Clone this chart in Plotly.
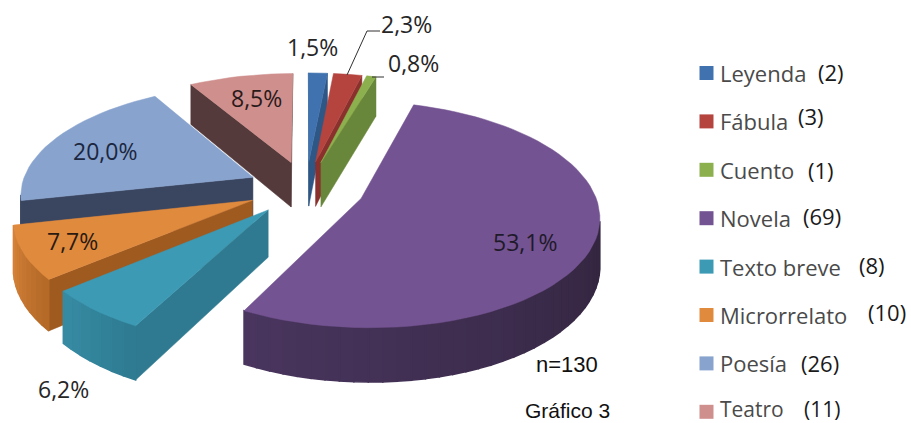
import numpy as np
import plotly.graph_objects as go

# --- DATA ---
genres = ["Leyenda", "Fábula", "Cuento", "Novela", "Texto breve", "Microrrelato", "Poesía", "Teatro"]
counts = [2, 3, 1, 69, 8, 10, 26, 11]
pct_labels = ["1,5%", "2,3%", "0,8%", "53,1%", "6,2%", "7,7%", "20,0%", "8,5%"]

# --- STYLE ---
top_colors = ["#3f72ae", "#b5443f", "#8cb04e", "#735391", "#3c9ab5", "#e08a3e", "#87a3ce", "#cf8f8d"]
cut_colors = ["#2f5785", "#8a312e", "#68873a", "#45335a", "#2f7a90", "#9f5a20", "#3a4560", "#553a3b"]
arc_left = ["#2f5785", "#8a312e", "#68873a", "#49355e", "#368ba3", "#d58238", "#3a4560", "#553a3b"]
arc_right = ["#2f5785", "#8a312e", "#68873a", "#33253f", "#2f7c92", "#b56a28", "#3a4560", "#553a3b"]
draw_order = [7, 0, 1, 2, 6, 5, 4, 3]

# label placement, page pixels
pct_x = [312, 406, 413, 525, 63, 72, 105, 256]
pct_y = [47, 24, 63, 242, 389, 241, 151, 98]
pct_colors = ["#262626", "#262626", "#262626", "#1f1a2a", "#262626", "#2a1a10", "#1c2740", "#2a1a1a"]
count_x = [816, 796, 806, 801, 857, 866, 799, 802]
count_dy = [-1, -5, 0, -2, -2, -3, 0, -3]

# --- PROJECTION OF THE TILTED PIE ---
CX, CY = 306, 188
RX, RY = 232, 108
PERSP = 0.14
PULL = 0.253
DEPTH = 46


def project(u, v, z=0.0):
    w = 1 + PERSP * v
    return CX + RX * u / w, CY - RY * v / w + z * DEPTH / w


def poly(fig, xs, ys, color, width=0.5):
    fig.add_trace(go.Scatter(
        x=xs, y=ys, mode="lines", fill="toself", fillcolor=color,
        line=dict(color=color, width=width), hoverinfo="skip", showlegend=False,
    ))


def mix(c1, c2, t):
    a = [int(c1[i:i + 2], 16) for i in (1, 3, 5)]
    b = [int(c2[i:i + 2], 16) for i in (1, 3, 5)]
    return "rgb({},{},{})".format(*[round(p + (q - p) * t) for p, q in zip(a, b)])


def add_slice(fig, i, start, end):
    mid = (start + end) / 2
    ou, ov = PULL * np.sin(mid), PULL * np.cos(mid)
    thetas = np.linspace(start, end, max(2, int(np.degrees(end - start) / 3) + 1))
    us = ou + np.sin(thetas)
    vs = ov + np.cos(thetas)

    def wall(p1, p2, color, width=0.5):
        x1, y1 = project(*p1)
        x2, y2 = project(*p2)
        x3, y3 = project(*p2, 1)
        x4, y4 = project(*p1, 1)
        poly(fig, [x1, x2, x3, x4, x1], [y1, y2, y3, y4, y1], color, width)

    apex = (ou, ov)
    rim = list(zip(us, vs))
    # only walls whose top edge runs leftwards on screen face the viewer
    if project(*rim[0])[0] < project(*apex)[0]:
        wall(apex, rim[0], cut_colors[i])
    visible = [k for k in range(len(rim) - 1) if project(*rim[k + 1])[0] < project(*rim[k])[0]]
    for n, k in enumerate(visible):
        # the rim runs clockwise, so the first visible part is the right one
        t = n / max(1, len(visible) - 1)
        wall(rim[k], rim[k + 1], mix(arc_right[i], arc_left[i], t), 1.5)
    if project(*apex)[0] < project(*rim[-1])[0]:
        wall(rim[-1], apex, cut_colors[i])

    tx, ty = project(np.r_[ou, us, ou], np.r_[ov, vs, ov])
    poly(fig, tx, ty, top_colors[i])


fig = go.Figure()

edges = 2 * np.pi * np.r_[0, np.cumsum(counts)] / sum(counts)
for i in draw_order:
    add_slice(fig, i, edges[i], edges[i + 1])

# leader lines of the two small labels
for lx, ly in [([347, 367, 380], [75, 31, 31]), ([372, 384], [77, 77])]:
    fig.add_trace(go.Scatter(x=lx, y=ly, mode="lines", line=dict(color="#303030", width=1),
                             hoverinfo="skip", showlegend=False))

# legend swatches
legend_y = [73 + 48.4 * i for i in range(len(genres))]
fig.add_trace(go.Scatter(
    x=[706.5] * len(genres), y=legend_y, mode="markers",
    marker=dict(symbol="square", size=14, color=top_colors, line=dict(width=0)),
    hoverinfo="skip", showlegend=False,
))

for i, label in enumerate(pct_labels):
    fig.add_annotation(x=pct_x[i], y=pct_y[i], text=label, showarrow=False,
                       font=dict(family="Open Sans", size=23, color=pct_colors[i]))

for i, name in enumerate(genres):
    # last row sits against the page bottom, so it is set a little higher and smaller
    last = i == len(genres) - 1
    size = 21 if last else 22
    fig.add_annotation(x=718, y=legend_y[i] - (3 if last else 0), text=name, showarrow=False, xanchor="left",
                       font=dict(family="Open Sans", size=size, color="#4a4a4a"))
    fig.add_annotation(x=count_x[i], y=legend_y[i] + count_dy[i], text=f"({counts[i]})", showarrow=False,
                       xanchor="left", font=dict(family="Open Sans", size=size, color="#1a1a1a"))

fig.add_annotation(x=567, y=364, text="n=130", showarrow=False,
                   font=dict(family="Liberation Sans", size=22, color="#111111"))
fig.add_annotation(x=567, y=410, text="Gráfico 3", showarrow=False,
                   font=dict(family="Liberation Sans", size=21, color="#111111"))

fig.update_layout(
    width=911, height=423,
    margin=dict(l=0, r=0, t=0, b=0),
    paper_bgcolor="white", plot_bgcolor="white",
    showlegend=False,
    xaxis=dict(range=[0, 911], visible=False, fixedrange=True),
    yaxis=dict(range=[423, 0], visible=False, fixedrange=True),
)

fig.write_html("out.html", config=dict(displayModeBar=False),
               post_script="document.body.style.margin='0';document.body.style.overflow='hidden';")
